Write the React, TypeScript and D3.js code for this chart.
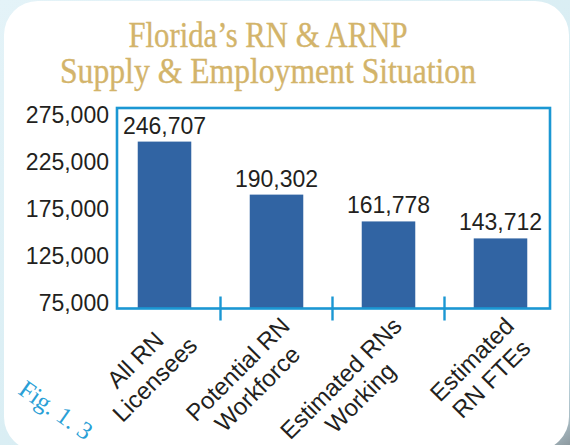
import React from "react";
import * as d3 from "d3";

const categoryLines: string[][] = [
  ["All RN", "Licensees"],
  ["Potential RN", "Workforce"],
  ["Estimated RNs", "Working"],
  ["Estimated", "RN FTEs"],
];
const values: number[] = [246707, 190302, 161778, 143712];
const yTicks: number[] = [75000, 125000, 175000, 225000, 275000];
const titleLines: string[] = ["Florida\u2019s RN & ARNP", "Supply & Employment Situation"];
const figLabel = "Fig. 1. 3";

const W = 570;
const H = 445;
const box = { left: 117, right: 550, top: 108, bottom: 308.5 };
const catFont = 24;
const numFont = 23;

function measure(text: string, font: string): number {
  const c = document.createElement("canvas").getContext("2d");
  if (!c) return text.length * 12;
  c.font = font;
  return c.measureText(text).width;
}

export default function App() {
  const ids = categoryLines.map((l) => l.join(" "));
  const x = d3
    .scaleBand<string>()
    .domain(ids)
    .range([108.5, 556.5])
    .paddingInner(0.522)
    .paddingOuter(0.261);
  const y = d3.scaleLinear().domain([75000, 275000]).range([303, 115]);
  const fmt = d3.format(",");
  const step = x.step();
  const bw = x.bandwidth();
  const sans = "'Liberation Sans', Arial, Helvetica, sans-serif";
  const serif = "'Liberation Serif', 'Times New Roman', serif";
  const blue = "#1b97d3";

  return (
    <svg
      width={W}
      height={H}
      style={{ position: "absolute", left: 0, top: 0 }}
      xmlns="http://www.w3.org/2000/svg"
    >
      <defs>
        <linearGradient id="bg" x1="0" y1="0" x2="1" y2="1">
          <stop offset="0" stopColor="#e4f3f8" />
          <stop offset="0.6" stopColor="#d8edf3" />
          <stop offset="0.9" stopColor="#c4dfe8" />
          <stop offset="0.97" stopColor="#a9bcc4" />
          <stop offset="1" stopColor="#8d999f" />
        </linearGradient>
      </defs>
      <rect x={0} y={0} width={W} height={H} fill="url(#bg)" />
      <rect x={4} y={1} width={565} height={450} rx={34} ry={34} fill="#ffffff" />

      {/* Title */}
      {titleLines.map((t, i) => (
        <text
          key={"ti" + i}
          x={268}
          y={47 + i * 36}
          textAnchor="middle"
          fontFamily={serif}
          fontSize={35}
          fill="#d3b46a"
          stroke="#d3b46a"
          strokeWidth={0.35}
          textLength={i === 0 ? 279 : 416}
          lengthAdjust="spacingAndGlyphs"
        >
          {t}
        </text>
      ))}

      {/* Bars */}
      {values.map((v, i) => (
        <rect
          key={"b" + i}
          x={x(ids[i])!}
          y={y(v)}
          width={bw}
          height={box.bottom - y(v)}
          fill="#3164a3"
        />
      ))}

      {/* Value labels */}
      {values.map((v, i) => (
        <text
          key={"v" + i}
          x={x(ids[i])! + bw / 2}
          y={y(v) - 8}
          textAnchor="middle"
          fontFamily={sans}
          fontSize={numFont}
          fill="#231f20"
        >
          {fmt(v)}
        </text>
      ))}

      {/* Plot frame */}
      <rect
        x={box.left}
        y={box.top}
        width={box.right - box.left}
        height={box.bottom - box.top}
        fill="none"
        stroke={blue}
        strokeWidth={2.6}
      />

      {/* Category separators */}
      {ids.slice(0, -1).map((id, i) => {
        const tx = x(id)! + bw / 2 + step / 2;
        return (
          <line
            key={"t" + i}
            x1={tx}
            x2={tx}
            y1={box.bottom - 12}
            y2={box.bottom + 12}
            stroke={blue}
            strokeWidth={2.4}
          />
        );
      })}

      {/* Y axis labels */}
      {yTicks.map((t) => (
        <text
          key={"y" + t}
          x={109}
          y={y(t) + 8.3}
          textAnchor="end"
          fontFamily={sans}
          fontSize={numFont}
          fill="#231f20"
        >
          {fmt(t)}
        </text>
      ))}

      {/* Category labels */}
      {categoryLines.map((lines, i) => {
        const cx = x(ids[i])! + bw / 2;
        const blockW = Math.max(
          ...lines.map((l) => measure(l, `${catFont}px ${sans}`))
        );
        const mid = -3 - blockW / 2;
        return (
          <g key={"c" + i} transform={`translate(${cx},${box.bottom}) rotate(-45)`}>
            {lines.map((l, j) => (
              <text
                key={j}
                x={mid}
                y={24 + j * 27.5}
                textAnchor="middle"
                fontFamily={sans}
                fontSize={catFont}
                fill="#231f20"
              >
                {l}
              </text>
            ))}
          </g>
        );
      })}

      {/* Figure label */}
      <text
        transform="translate(17,393) rotate(35)"
        fontFamily={serif}
        fontSize={25}
        fill="#2a9fd6"
      >
        {figLabel}
      </text>
    </svg>
  );
}
